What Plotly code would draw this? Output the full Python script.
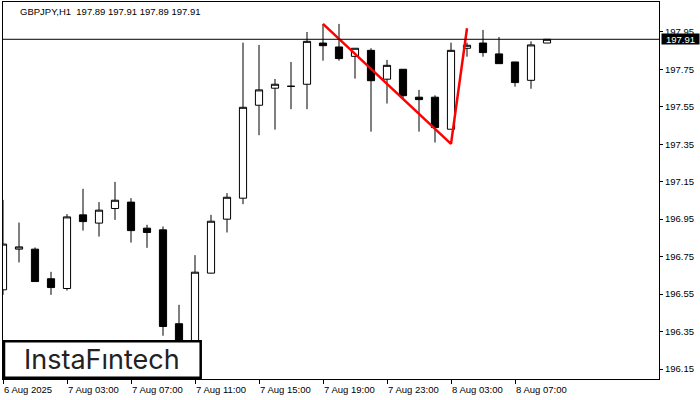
import plotly.graph_objects as go

# ---- data ----
symbol_header = "GBPJPY,H1  197.89 197.91 197.89 197.91"

times = [
    "6 Aug 23:00", "7 Aug 00:00", "7 Aug 01:00", "7 Aug 02:00", "7 Aug 03:00",
    "7 Aug 04:00", "7 Aug 05:00", "7 Aug 06:00", "7 Aug 07:00", "7 Aug 08:00",
    "7 Aug 09:00", "7 Aug 10:00", "7 Aug 11:00", "7 Aug 12:00", "7 Aug 13:00",
    "7 Aug 14:00", "7 Aug 15:00", "7 Aug 16:00", "7 Aug 17:00", "7 Aug 18:00",
    "7 Aug 19:00", "7 Aug 20:00", "7 Aug 21:00", "7 Aug 22:00", "7 Aug 23:00",
    "8 Aug 00:00", "8 Aug 01:00", "8 Aug 02:00", "8 Aug 03:00", "8 Aug 04:00",
    "8 Aug 05:00", "8 Aug 06:00", "8 Aug 07:00", "8 Aug 08:00", "8 Aug 09:00",
]

opens = [196.573, 196.790, 196.790, 196.632, 196.580, 196.973, 196.929, 197.007, 197.041, 196.902,
         196.893, 196.392, 196.200, 196.662, 196.950, 197.062, 197.558, 197.649, 197.659, 197.670,
         197.890, 197.869, 197.819, 197.851, 197.697, 197.750, 197.601, 197.601, 197.430, 197.862,
         197.890, 197.832, 197.789, 197.691, 197.890]
highs = [197.053, 196.932, 196.799, 196.669, 196.977, 197.112, 197.041, 197.149, 197.062, 196.920,
         196.911, 196.493, 196.758, 196.973, 197.089, 197.892, 197.880, 197.698, 197.789, 197.949,
         197.992, 197.992, 197.862, 197.862, 197.800, 197.750, 197.640, 197.611, 197.892, 197.892,
         197.960, 197.922, 197.789, 197.899, 197.910]
lows = [196.546, 196.719, 196.617, 196.546, 196.569, 196.889, 196.857, 196.946, 196.825, 196.797,
        196.328, 196.150, 196.180, 196.660, 196.879, 197.030, 197.398, 197.428, 197.537, 197.537,
        197.796, 197.796, 197.700, 197.417, 197.567, 197.597, 197.417, 197.359, 197.430, 197.817,
        197.817, 197.780, 197.657, 197.646, 197.890]
closes = [196.817, 196.802, 196.617, 196.585, 196.962, 196.937, 196.998, 197.051, 196.889, 196.879,
          196.377, 196.200, 196.667, 196.939, 197.067, 197.547, 197.640, 197.670, 197.659, 197.899,
          197.876, 197.807, 197.862, 197.689, 197.771, 197.609, 197.588, 197.439, 197.851, 197.878,
          197.839, 197.780, 197.679, 197.880, 197.910]

current_price = 197.91
current_price_label = "197.91"

# pattern (double top) line: candle index and price
pattern_idx = [20, 28, 29]
pattern_price = [197.992, 197.352, 197.969]

y_ticks = [196.15, 196.35, 196.55, 196.75, 196.95, 197.15, 197.35, 197.55, 197.75, 197.95]
y_tick_labels = ["196.15", "196.35", "196.55", "196.75", "196.95",
                 "197.15", "197.35", "197.55", "197.75", "197.95"]
x_tick_idx = [0, 4, 8, 12, 16, 20, 24, 28, 32]
x_tick_labels = ["6 Aug 2025", "7 Aug 03:00", "7 Aug 07:00", "7 Aug 11:00", "7 Aug 15:00",
                 "7 Aug 19:00", "7 Aug 23:00", "8 Aug 03:00", "8 Aug 07:00"]

logo_text = "InstaF\u0131ntech"

# ---- figure ----
FONT = "Liberation Sans, Arial, sans-serif"
idx = list(range(len(times)))

fig = go.Figure()
fig.add_trace(go.Candlestick(
    x=idx, open=opens, high=highs, low=lows, close=closes,
    increasing=dict(fillcolor="white", line=dict(color="black", width=1)),
    decreasing=dict(fillcolor="black", line=dict(color="black", width=1)),
    whiskerwidth=0, hoverinfo="skip", text=times,
))
fig.add_trace(go.Scatter(
    x=pattern_idx, y=pattern_price, mode="lines",
    line=dict(color="#ff0000", width=2.5), hoverinfo="skip",
))

fig.update_layout(
    width=700, height=400,
    margin=dict(l=3, r=41, t=2, b=21),
    paper_bgcolor="white", plot_bgcolor="white",
    showlegend=False, boxgap=0.36,
    font=dict(family=FONT, size=9.5, color="black"),
    xaxis=dict(
        range=[0, 41], rangeslider=dict(visible=False),
        showgrid=False, zeroline=False,
        showline=True, linecolor="black", linewidth=1, mirror=True,
        tickmode="array", tickvals=x_tick_idx, ticktext=[""] * len(x_tick_idx),
        ticks="outside", ticklen=4, tickcolor="black", tickwidth=1,
    ),
    yaxis=dict(
        range=[196.097, 198.109], side="right",
        showgrid=False, zeroline=False,
        showline=True, linecolor="black", linewidth=1, mirror=True,
        tickmode="array", tickvals=y_ticks, ticktext=y_tick_labels,
        ticks="outside", ticklen=3, tickcolor="black", tickwidth=1,
        tickfont=dict(family=FONT, size=9.5, color="black"),
    ),
)

# current price line
fig.add_hline(y=current_price, line=dict(color="black", width=1))

# x tick labels, left-aligned at the tick like the original terminal
for i, lab in zip(x_tick_idx, x_tick_labels):
    fig.add_annotation(x=i, y=0, xref="x", yref="paper", text=lab, showarrow=False,
                       xanchor="left", yanchor="top", yshift=-3, xshift=-1,
                       font=dict(family=FONT, size=9.5, color="black"))

# header
fig.add_annotation(x=15 / 656, y=1, xref="paper", yref="paper", text=symbol_header,
                   showarrow=False, xanchor="left", yanchor="top", yshift=-2,
                   font=dict(family=FONT, size=9.5, color="black"))

# current price tag
fig.add_annotation(x=1, y=current_price, xref="paper", yref="y", text=current_price_label,
                   showarrow=False, xanchor="left", yanchor="middle", xshift=2,
                   bgcolor="black", font=dict(family=FONT, size=9.5, color="white"),
                   width=37, height=10, borderpad=0)

# logo box
fig.add_shape(type="rect", xref="paper", yref="paper",
              x0=1 / 656, x1=197.7 / 656, y0=1.3 / 377, y1=37.7 / 377,
              fillcolor="white", line=dict(color="black", width=2.5), layer="above")
fig.add_annotation(x=98.7 / 656, y=19.5 / 377, xref="paper", yref="paper", text=logo_text,
                   showarrow=False, xanchor="center", yanchor="middle",
                   font=dict(family="Inter, Lato, sans-serif", size=27, color="#222222", weight=400))

fig.write_html("out.html", config={"displayModeBar": False, "staticPlot": True},
               post_script="document.body.style.margin='0';document.body.style.padding='0';")
